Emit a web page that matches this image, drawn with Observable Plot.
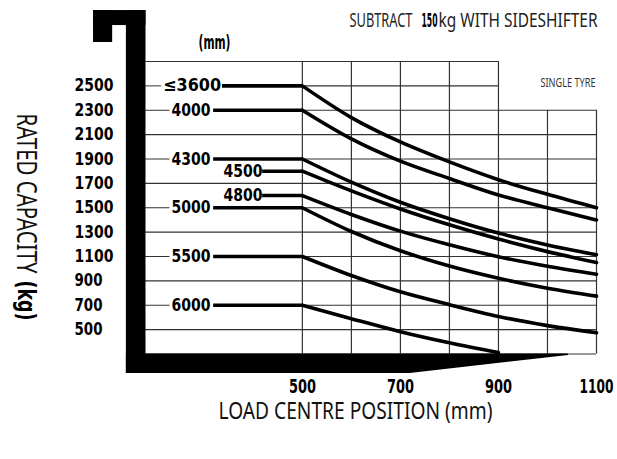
<!DOCTYPE html>
<html><head><meta charset="utf-8">
<script src="https://cdn.jsdelivr.net/npm/d3@7"></script>
<script src="https://cdn.jsdelivr.net/npm/@observablehq/plot@0.6"></script>
<style>body{margin:0;background:#fff} svg{display:block}</style>
</head><body><div id="chart"></div>
<script>
// ---- data ----
const loadCentres = [500, 600, 700, 800, 900, 1000, 1100];       // mm
const mastHeights = ["≤3600", "4000", "4300", "4500", "4800", "5000", "5500", "6000"]; // mm
const cap3600 = [2500, 2240, 2040, 1876, 1730, 1610, 1500];
const cap4000 = [2300, 2065, 1882, 1740, 1605, 1500, 1400];
const cap4300 = [1900, 1710, 1545, 1410, 1292, 1195, 1115];
const cap4500 = [1800, 1638, 1490, 1360, 1243, 1140, 1050];
const cap4800 = [1600, 1445, 1308, 1196, 1098, 1020, 955];
const cap5000 = [1500, 1305, 1147, 1022, 922, 840, 775];
const cap5500 = [1100, 944, 810, 705, 608, 533, 475];
const cap6000 = [700, 590, 483, 392, 312];
const capacities = [cap3600, cap4000, cap4300, cap4500, cap4800, cap5000, cap5500, cap6000];
const yTickLabels = [2500, 2300, 2100, 1900, 1700, 1500, 1300, 1100, 900, 700, 500]; // kg
const xTickLabels = [500, 700, 900, 1100];
const gridYValues = [300, 500, 700, 900, 1100, 1300, 1500, 1700, 1900, 2100, 2300, 2500, 2700];
const gridXValues = [500, 600, 700, 800, 900, 1000, 1100];
const titleParts = ["SUBTRACT", "150", "kg WITH SIDESHIFTER"];
const noteText = "SINGLE TYRE";
const unitText = "(mm)";
const xTitle = "LOAD CENTRE POSITION (mm)";
const yTitleParts = ["RATED CAPACITY", "(kg)"];

// ---- layout (data units) ----
const X0 = 180, X1 = 1100, Y0 = 300, Y1 = 2700;
const labelIndent = [false, false, false, true, true, false, false, false];
const labelX = i => i === 0 ? 216 : labelIndent[i] ? 339 : 233;
const lineStart = i => i === 0 ? 337 : labelIndent[i] ? 419 : 319;
const fullLeftRows = [300, 500, 900, 1300, 1700, 2100, 2700];

const curveRows = capacities.flatMap((vals, i) =>
  vals.map((v, j) => ({mast: mastHeights[i], x: loadCentres[j], y: v})));
const flatRows = capacities.map((vals, i) => ({mast: mastHeights[i], x1: lineStart(i), x2: loadCentres[0], y: vals[0]}));
const labelRows = capacities.map((vals, i) => ({mast: mastHeights[i], x: labelX(i), y: vals[0]}));
const leftTickRows = capacities.map((vals, i) => ({x1: X0, x2: labelX(i) - 3, y: vals[0], show: !labelIndent[i]})).filter(d => d.show);
const hGrid = gridYValues.map(y => ({y, x1: fullLeftRows.includes(y) ? X0 : 500, x2: y > 2300 ? 900 : X1}));
const vGrid = gridXValues.map(x => ({x, y1: Y0, y2: x > 900 ? 2300 : Y1}));

// fork silhouette (data units)
const forkRects = [
  {x1: 141, x2: 181, y1: 140, y2: 3118},
  {x1: 74, x2: 181, y1: 2995, y2: 3118},
  {x1: 74, x2: 113, y1: 2856, y2: 3118},
  {x1: 141, x2: 721, y1: 140, y2: 300}
];
const forkTaper = [{x: 720, y1: 140, y2: 300}, {x: 1043, y1: 288, y2: 300}];

const NUM = '"DejaVu Sans", sans-serif';
const THIN = '"Noto Sans", "DejaVu Sans", sans-serif';
const GRID = "#333";
const common = {lineAnchor: "middle", fill: "#000"};

// text lengths (px) per text mark, in mark order
const fits = [
  s => s.startsWith("≤") ? 58 : 39,        // curve labels
  s => s.length === 4 ? 39 : 28,           // y tick labels
  s => s.length === 4 ? 34 : 27,           // x tick labels
  () => 63, () => 16, () => 159,           // title parts
  () => 55, () => 32, () => 274,           // note, unit, x title
  () => 160, () => 40                      // y title parts
];

const chart = Plot.plot({
  width: 617, height: 459,
  marginLeft: 145, marginRight: 21, marginTop: 61, marginBottom: 105.5,
  x: {domain: [X0, X1], axis: null},
  y: {domain: [Y0, Y1], axis: null},
  style: {fontFamily: NUM, background: "#fff", overflow: "visible"},
  marks: [
    Plot.ruleY(hGrid, {y: "y", x1: "x1", x2: "x2", stroke: GRID, strokeWidth: 1.2}),
    Plot.ruleX(vGrid, {x: "x", y1: "y1", y2: "y2", stroke: GRID, strokeWidth: 1.2}),
    Plot.ruleY(leftTickRows, {y: "y", x1: "x1", x2: "x2", stroke: GRID, strokeWidth: 1}),
    Plot.rect(forkRects, {x1: "x1", x2: "x2", y1: "y1", y2: "y2", fill: "#000"}),
    Plot.areaY(forkTaper, {x: "x", y1: "y1", y2: "y2", fill: "#000"}),
    Plot.ruleY(flatRows, {y: "y", x1: "x1", x2: "x2", stroke: "#000", strokeWidth: 3.6}),
    Plot.line(curveRows, {x: "x", y: "y", z: "mast", stroke: "#000", strokeWidth: 3.6, curve: "monotone-x"}),
    Plot.text(labelRows, {...common, x: "x", y: "y", text: "mast", textAnchor: "start", fontSize: 17.5, fontWeight: "bold"}),
    Plot.text(yTickLabels, {...common, y: d => d, text: d => String(d), frameAnchor: "left", dx: -71, textAnchor: "start", fontSize: 17.5, fontWeight: "bold"}),
    Plot.text(xTickLabels, {...common, x: d => d, text: d => String(d), frameAnchor: "bottom", dy: 32.5, textAnchor: "middle", fontSize: 19, fontWeight: "bold"}),
    Plot.text([titleParts[0]], {...common, text: d => d, frameAnchor: "top-left", dx: 204, dy: -40.5, textAnchor: "start", fontFamily: THIN, fontSize: 19, fill: "#222"}),
    Plot.text([titleParts[1]], {...common, text: d => d, frameAnchor: "top-left", dx: 276, dy: -40.5, textAnchor: "start", fontFamily: NUM, fontWeight: "bold", fontSize: 19}),
    Plot.text([titleParts[2]], {...common, text: d => d, frameAnchor: "top-left", dx: 293, dy: -40.5, textAnchor: "start", fontFamily: THIN, fontSize: 19, fill: "#222"}),
    Plot.text([noteText], {...common, text: d => d, frameAnchor: "top-left", dx: 395, dy: 21, textAnchor: "start", fontFamily: THIN, fontSize: 12.5, fill: "#333"}),
    Plot.text([unitText], {...common, text: d => d, frameAnchor: "top-left", dx: 53, dy: -19, textAnchor: "start", fontSize: 20, fontWeight: "bold"}),
    Plot.text([xTitle], {...common, text: d => d, frameAnchor: "bottom-left", dx: 73, dy: 57.5, textAnchor: "start", fontFamily: THIN, fontSize: 23, fill: "#111"}),
    Plot.text([yTitleParts[0]], {...common, text: d => d, frameAnchor: "top-left", dx: -119.5, dy: 52, rotate: 90, textAnchor: "start", fontFamily: THIN, fontSize: 27, fill: "#111"}),
    Plot.text([yTitleParts[1]], {...common, text: d => d, frameAnchor: "top-left", dx: -119.5, dy: 219, rotate: 90, textAnchor: "start", fontFamily: NUM, fontWeight: "bold", fontSize: 25})
  ]
});
document.getElementById("chart").append(chart);

// squeeze texts to the condensed widths of the reference
chart.querySelectorAll('g[aria-label="text"]').forEach((g, k) => {
  const f = fits[k];
  if (!f) return;
  g.querySelectorAll("text").forEach(t => {
    t.setAttribute("textLength", f(t.textContent));
    t.setAttribute("lengthAdjust", "spacingAndGlyphs");
  });
});
</script>
</body></html>
